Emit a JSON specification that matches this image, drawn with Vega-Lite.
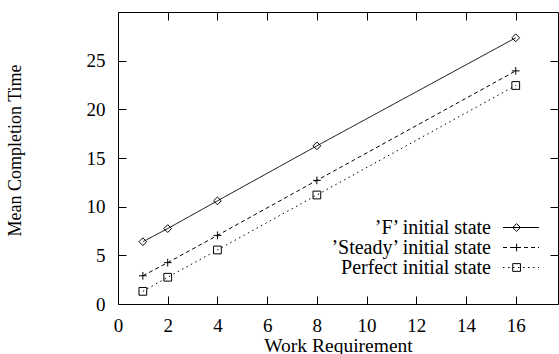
{
  "$schema": "https://vega.github.io/schema/vega-lite/v6.json",
  "width": 440,
  "height": 292,
  "autosize": {"type": "none"},
  "padding": {"left": 118, "top": 12, "right": 1, "bottom": 50},
  "background": "white",
  "config": {
    "font": "Liberation Serif",
    "view": {"stroke": "black", "strokeWidth": 1},
    "axis": {
      "labelFont": "Liberation Serif",
      "labelFontSize": 19,
      "labelColor": "black",
      "titleFont": "Liberation Serif",
      "titleFontWeight": "normal",
      "titleColor": "black",
      "tickColor": "black",
      "ticks": true,
      "tickSize": 8,
      "tickWidth": 1,
      "offset": -8,
      "domain": false,
      "grid": false,
      "zindex": 1
    }
  },
  "data": {
    "values": [
      {"series": "’F’ initial state", "work": 1, "time": 6.4},
      {"series": "’F’ initial state", "work": 2, "time": 7.75},
      {"series": "’F’ initial state", "work": 4, "time": 10.6},
      {"series": "’F’ initial state", "work": 8, "time": 16.25},
      {"series": "’F’ initial state", "work": 16, "time": 27.35},
      {"series": "’Steady’ initial state", "work": 1, "time": 2.9},
      {"series": "’Steady’ initial state", "work": 2, "time": 4.25},
      {"series": "’Steady’ initial state", "work": 4, "time": 7.05},
      {"series": "’Steady’ initial state", "work": 8, "time": 12.7},
      {"series": "’Steady’ initial state", "work": 16, "time": 23.95},
      {"series": "Perfect initial state", "work": 1, "time": 1.3},
      {"series": "Perfect initial state", "work": 2, "time": 2.75},
      {"series": "Perfect initial state", "work": 4, "time": 5.55},
      {"series": "Perfect initial state", "work": 8, "time": 11.2},
      {"series": "Perfect initial state", "work": 16, "time": 22.45}
    ]
  },
  "layer": [
    {
      "mark": {"type": "line", "color": "black", "strokeWidth": 1},
      "encoding": {
        "x": {
          "field": "work", "type": "quantitative",
          "scale": {"domain": [0, 17.7], "nice": false, "zero": true},
          "axis": null
        },
        "y": {
          "field": "time", "type": "quantitative",
          "scale": {"domain": [0, 30], "nice": false},
          "axis": null
        },
        "detail": {"field": "series"},
        "strokeDash": {
          "field": "series", "type": "nominal",
          "scale": {"domain": ["’F’ initial state", "’Steady’ initial state", "Perfect initial state"], "range": [[1, 0], [4, 3], [1.5, 3.5]]},
          "legend": {"orient": "none", "legendX": 393, "legendY": 205.5, "title": null, "symbolType": "M-4.5,0L4.5,0", "symbolSize": 64, "symbolStrokeColor": "black", "symbolStrokeWidth": 1, "labelAlign": "right", "labelOffset": -40, "labelFontSize": 20, "labelFont": "Liberation Serif", "labelColor": "black", "rowPadding": -1.5, "padding": 0, "labelLimit": 0}
        }
      }
    },
    {
      "mark": {"type": "point", "color": "black", "filled": false, "strokeWidth": 1, "size": 60, "opacity": 1},
      "encoding": {
        "x": {"field": "work", "type": "quantitative", "axis": null},
        "y": {"field": "time", "type": "quantitative", "axis": null},
        "shape": {
          "field": "series", "type": "nominal", "sort": null,
          "scale": {"range": ["M0,-1L1,0L0,1L-1,0Z", "M-1,0L1,0M0,-1L0,1", "M-1,-1L1,-1L1,1L-1,1Z"]},
          "legend": {"orient": "none", "legendX": 388.6, "legendY": 205.5, "title": null, "symbolSize": 60, "symbolStrokeColor": "black", "symbolFillColor": "transparent", "symbolStrokeWidth": 1, "labelAlign": "right", "labelOffset": -40, "labelFontSize": 20, "labelFont": "Liberation Serif", "labelColor": "transparent", "rowPadding": -1.5, "padding": 0, "labelLimit": 0}
        }
      }
    },
    {
      "mark": {"type": "point", "opacity": 0},
      "encoding": {
        "x": {"field": "work", "type": "quantitative", "axis": {"orient": "top", "values": [0, 2, 4, 6, 8, 10, 12, 14, 16], "labels": false, "title": null}},
        "y": {"field": "time", "type": "quantitative", "axis": {"orient": "right", "values": [0, 5, 10, 15, 20, 25], "labels": false, "title": null}}
      }
    },
    {
      "mark": {"type": "point", "opacity": 0},
      "encoding": {
        "x": {"field": "work", "type": "quantitative", "axis": {"orient": "bottom", "values": [0, 2, 4, 6, 8, 10, 12, 14, 16], "title": "Work Requirement", "titleFontSize": 19.5, "labelPadding": 12, "titlePadding": 1, "labelFlush": false}},
        "y": {"field": "time", "type": "quantitative", "axis": {"orient": "left", "values": [0, 5, 10, 15, 20, 25], "title": "Mean Completion Time", "titleFontSize": 18, "labelPadding": 13, "titleX": -102, "titleY": 138}}
      }
    }
  ],
  "resolve": {"axis": {"x": "independent", "y": "independent"}}
}
